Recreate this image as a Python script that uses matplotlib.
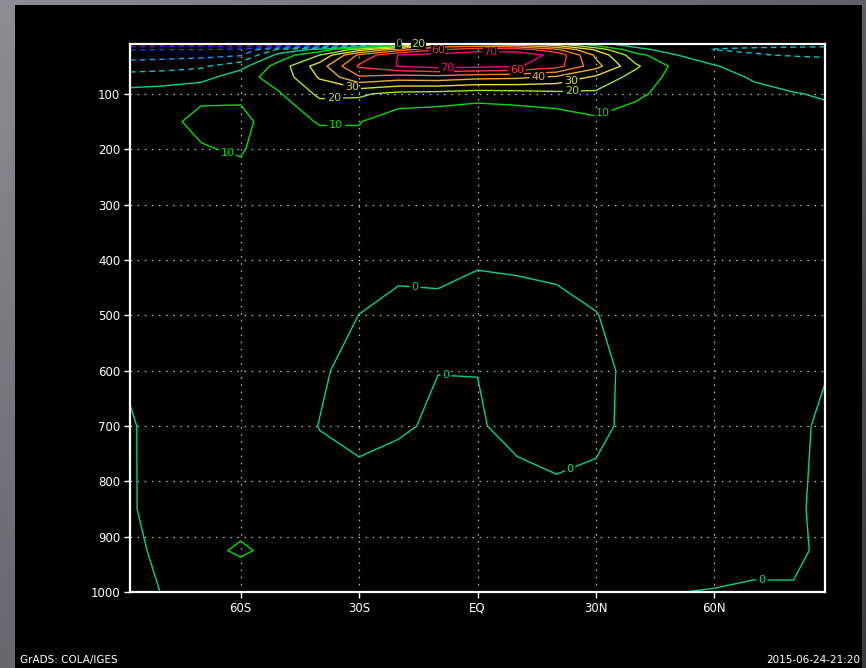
import numpy as np
import matplotlib
matplotlib.use("Agg")
import matplotlib.pyplot as plt

plt.rcParams["font.family"] = ["Liberation Sans Narrow", "DejaVu Sans"]

# latitude columns (deg, negative = south) and pressure levels (hPa)
lats = [-88, -80, -70, -60, -50, -40, -30, -20, -10, 0, 10, 20, 30, 40, 50, 60, 70, 80, 88]
plevs = [10, 20, 30, 50, 70, 100, 150, 200, 250, 300, 400, 500, 600, 700, 850, 925, 1000]

# zonal-mean field, one row per pressure level
row_10 = [-49, -48, -48, -51, -51.5, -44, -25, -1, 40, 38, 32, 22, 2, -3, -5, -8, -8, -8, -8]
row_20 = [-30.6, -30, -30, -28, -8, 3, 25, 45, 59, 66, 66, 52, 28, 2, -3, -10.3, -11, -11.5, -12]
row_30 = [-24.5, -24, -23, -21, 4, 20, 52, 70.5, 74, 76, 75, 67.5, 38, 14, 0.3, -4, -9.5, -10.5, -11]
row_50 = [-14.5, -13.5, -11.5, -3.5, 15, 35, 61.5, 70.5, 74, 73, 71, 64, 43.6, 21.8, 7.6, 0.5, -3.5, -5.5, -6]
row_70 = [-6, -5.5, -4, 6.5, 14, 31, 48.7, 45, 46, 43, 42, 38, 28, 16, 7, 3, -0.8, -2.5, -3]
row_100 = [3.5, 4.8, 9, 9, 9.5, 22, 21.5, 17, 16, 14, 15, 17, 18, 12, 6, 4, 2, 0.3, -0.6]
row_150 = [6, 8.6, 11.3, 11.5, 7, 10.5, 10.5, 4, 3, 2, 3, 4, 8, 5, 4, 3.5, 3, 2.5, 2]
row_200 = [6.5, 8.3, 9.6, 10.6, 6, 7, 7, 4, 2.5, 2, 2.5, 3, 5, 5, 4, 3.5, 3, 2.5, 2]
row_250 = [5.5, 6, 7.5, 8.4, 5.5, 5, 5, 3.5, 2.5, 2, 2.5, 3, 4, 4.5, 4, 3.5, 3, 2.5, 2]
row_300 = [4.5, 5, 6, 6.5, 5, 4.5, 4, 3, 2, 1.5, 2, 2.5, 3.5, 4, 4, 3.5, 3, 2.5, 2]
row_400 = [3, 4, 5, 5, 4.5, 3.5, 2.5, 1.5, 1.3, 0.5, 0.8, 1.2, 2.5, 3, 3.5, 3, 2.5, 2, 1.5]
row_500 = [2, 3, 4, 4, 3.5, 2.5, -0.05, -1.7, -1.2, -2.2, -2, -1.5, -0.2, 2.5, 3, 3, 2, 1.5, 1]
row_600 = [0.8, 3, 3.5, 3.5, 3, 0.58, -1.5, -2.5, -0.1, -0.15, -3, -2.5, -1.5, 1.5, 2.5, 2.5, 2, 1.2, 0.15]
row_700 = [-0.5, 1.85, 3, 3.5, 2, -0.1, -2, -1, 1.17, 1.1, -3.3, -2.5, -1.6, 1.9, 2.5, 2.5, 2, 0.64, -0.5]
row_850 = [-1, 3.44, 6, 6.6, 5, 1.8, 3.36, 5.25, 4, 4, 5.7, 1.8, 2.5, 3, 3, 2.5, 2, 0.67, -1]
row_925 = [-2, 1.72, 7.9, 11, 7.9, 4, 4, 5, 4.5, 4.5, 5, 4, 3.5, 3.5, 3, 3, 1.2, 1, -1]
row_1000 = [-3, 0.16, 4, 4.75, 4, 3, 3, 3.5, 3, 3, 3, 2.5, 2, 1.5, 0.1, -0.3, -0.5, -0.4, -1.5]

field = np.array([row_10, row_20, row_30, row_50, row_70, row_100, row_150, row_200,
                  row_250, row_300, row_400, row_500, row_600, row_700, row_850,
                  row_925, row_1000])

# contour levels and the GrADS rainbow sequence
clevs = [-50, -40, -30, -20, -10, 0, 10, 20, 30, 40, 50, 60, 70]
ccols = ["#a000c8", "#8200dc", "#1e3cff", "#00a0ff", "#00c8c8", "#00d28c",
         "#00dc00", "#a0e632", "#e6dc32", "#e6af2d", "#f08228", "#fa3c3c", "#f00082"]

xticks = [-60, -30, 0, 30, 60]
xticklabels = ["60S", "30S", "EQ", "30N", "60N"]
yticks = [100, 200, 300, 400, 500, 600, 700, 800, 900, 1000]

# label anchor points (lat, hPa)
label_spots = [(-63.7, 214), (-35.8, 165), (32.0, 140), (-36.3, 113), (23.9, 100),
               (-31.8, 89), (23.9, 86), (15.5, 74), (10.0, 58), (-7.7, 44),
               (-10.0, 21), (3.2, 22), (-20.0, 10.5), (-15.0, 10.5),
               (-15.8, 447), (-8.0, 610), (23.9, 785), (72.0, 996)]

W, H = 866, 668
fig = plt.figure(figsize=(W / 100, H / 100), dpi=100)
fig.patch.set_facecolor("#6f6d75")

# grey window frame with a soft diagonal shading, black page on top of it
frame = fig.add_axes([0, 0, 1, 1], zorder=-10)
frame.set_axis_off()
gx, gy = np.meshgrid(np.linspace(0, 1, 200), np.linspace(0, 1, 200))
lum = 0.56 - 0.18 * gx - 0.15 * gy
rgb = np.dstack([lum, lum - 0.01, lum + 0.025]).clip(0, 1)
frame.imshow(rgb, extent=(0, 1, 0, 1), origin="upper", aspect="auto")
frame.set_xlim(0, 1)
frame.set_ylim(0, 1)

page = fig.add_axes([15 / W, 0, (862 - 15) / W, (H - 5) / H], zorder=-5)
page.set_facecolor("black")
page.set_xticks([])
page.set_yticks([])
for s in page.spines.values():
    s.set_visible(False)

ax = fig.add_axes([130 / W, (H - 592) / H, (825 - 130) / W, (592 - 44) / H], zorder=1)
ax.set_facecolor("black")

styles = [(0, (4, 3)) if lv < 0 else "solid" for lv in clevs]
cs = ax.contour(lats, plevs, field, levels=clevs, colors=ccols,
                linewidths=1.0, linestyles=styles)

ax.set_xlim(-88, 88)
ax.set_ylim(1000, 10)

ax.set_xticks(xticks)
ax.set_xticklabels(xticklabels)
ax.set_yticks(yticks)
ax.set_yticklabels([str(v) for v in yticks])
ax.tick_params(colors="white", labelcolor="white", labelsize=8.5, length=4,
               width=1, direction="out", pad=3)
for s in ax.spines.values():
    s.set_color("white")
    s.set_linewidth(1.6)

for x in xticks:
    ax.axvline(x, color="#bdbdbd", lw=0.9, ls=(0, (1.2, 4.5)), zorder=1)
for y in yticks[:-1]:
    ax.axhline(y, color="#bdbdbd", lw=0.9, ls=(0, (1.2, 4.5)), zorder=1)

cs.clabel(fmt="%d", fontsize=8, inline=True, inline_spacing=2, manual=label_spots)
for t in cs.labelTexts:
    t.set_rotation(0)
    t.set_clip_on(False)
    t.set_zorder(5)
    t.set_bbox(dict(boxstyle="square,pad=0.02", facecolor="black", edgecolor="none"))

fig.text(20 / W, 3 / H, "GrADS: COLA/IGES", color="white", fontsize=7.5,
         ha="left", va="bottom")
fig.text(860 / W, 3 / H, "2015-06-24-21:20", color="white", fontsize=7.5,
         ha="right", va="bottom")

fig.savefig("out.png", dpi=100, facecolor=fig.get_facecolor())
